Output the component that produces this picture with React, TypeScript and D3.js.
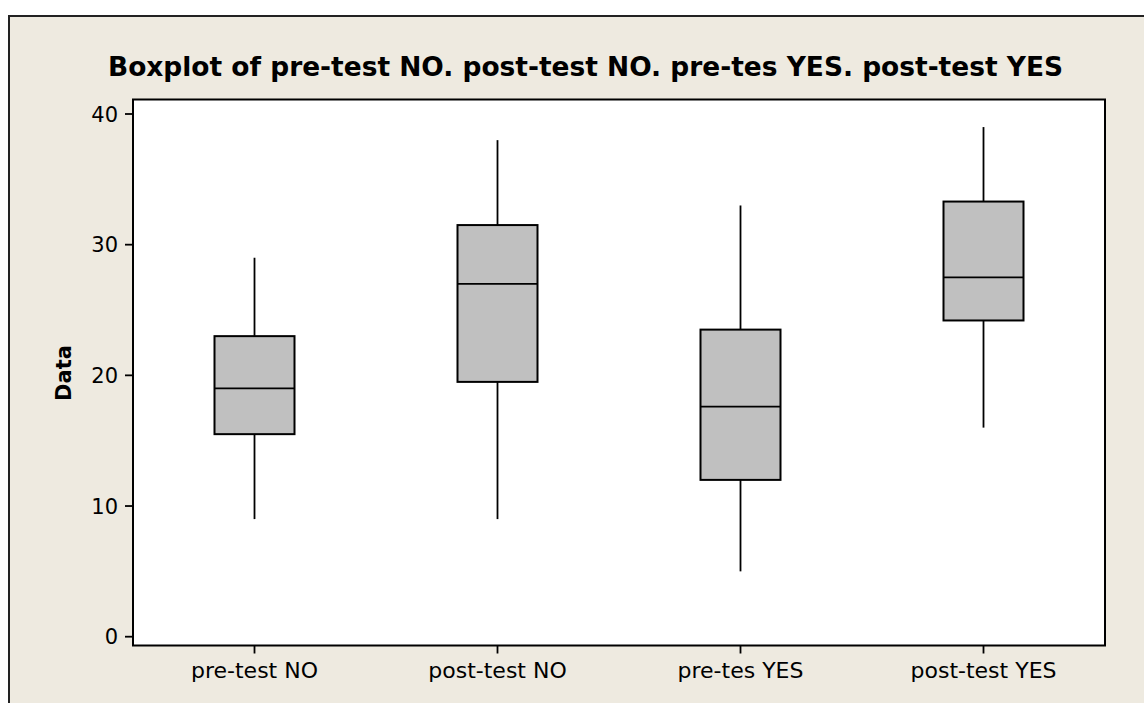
import React from "react";
import * as d3 from "d3";

const categories = ["pre-test NO", "post-test NO", "pre-tes YES", "post-test YES"];
const whiskerLow = [9, 9, 5, 16];
const q1 = [15.5, 19.5, 12, 24.2];
const median = [19, 27, 17.6, 27.5];
const q3 = [23, 31.5, 23.5, 33.3];
const whiskerHigh = [29, 38, 33, 39];
const yTicks = [0, 10, 20, 30, 40];
const title = "Boxplot of pre-test NO. post-test NO. pre-tes YES. post-test YES";
const yLabel = "Data";

export default function App() {
  const W = 1144, H = 703;
  const left = 133, right = 1105, top = 99.5, bottom = 645.5;
  const x = d3.scaleBand<string>().domain(categories).range([left, right]);
  const y = d3.scaleLinear().domain([0, 40]).range([636.7, 114]);
  const boxW = 80;
  const font = "Tahoma, 'DejaVu Sans', Verdana, sans-serif";
  return (
    <svg width={W} height={H} style={{ position: "absolute", left: 0, top: 0 }}>
      <rect x={0} y={0} width={W} height={H} fill="#ffffff" />
      <rect x={9} y={16} width={W} height={H} fill="#EEEAE0" stroke="#222" strokeWidth={2} />
      <text x={585.5} y={76} textAnchor="middle" fontFamily={font} fontWeight="bold" fontSize={27} textLength={955} lengthAdjust="spacingAndGlyphs" fill="#000">{title}</text>
      <rect x={left} y={top} width={right - left} height={bottom - top} fill="#fff" stroke="#000" strokeWidth={2} />
      {yTicks.map((t) => (
        <g key={t}>
          <line x1={left - 8} x2={left} y1={y(t)} y2={y(t)} stroke="#000" strokeWidth={1.8} />
          <text x={left - 15} y={y(t)} dy="0.36em" textAnchor="end" fontFamily={font} fontSize={21} fill="#000">{t}</text>
        </g>
      ))}
      <text transform={`translate(71,373) rotate(-90)`} textAnchor="middle" fontFamily={font} fontWeight="bold" fontSize={21} fill="#000">{yLabel}</text>
      {categories.map((c, i) => {
        const cx = (x(c) as number) + x.bandwidth() / 2;
        return (
          <g key={c}>
            <line x1={cx} x2={cx} y1={bottom} y2={bottom + 8} stroke="#000" strokeWidth={1.8} />
            <text x={cx} y={678} textAnchor="middle" fontFamily={font} fontSize={22} fill="#000">{c}</text>
            <line x1={cx} x2={cx} y1={y(whiskerHigh[i])} y2={y(q3[i])} stroke="#000" strokeWidth={1.8} />
            <line x1={cx} x2={cx} y1={y(q1[i])} y2={y(whiskerLow[i])} stroke="#000" strokeWidth={1.8} />
            <rect x={cx - boxW / 2} y={y(q3[i])} width={boxW} height={y(q1[i]) - y(q3[i])} fill="#C0C0C0" stroke="#000" strokeWidth={2} />
            <line x1={cx - boxW / 2} x2={cx + boxW / 2} y1={y(median[i])} y2={y(median[i])} stroke="#000" strokeWidth={1.8} />
          </g>
        );
      })}
    </svg>
  );
}
